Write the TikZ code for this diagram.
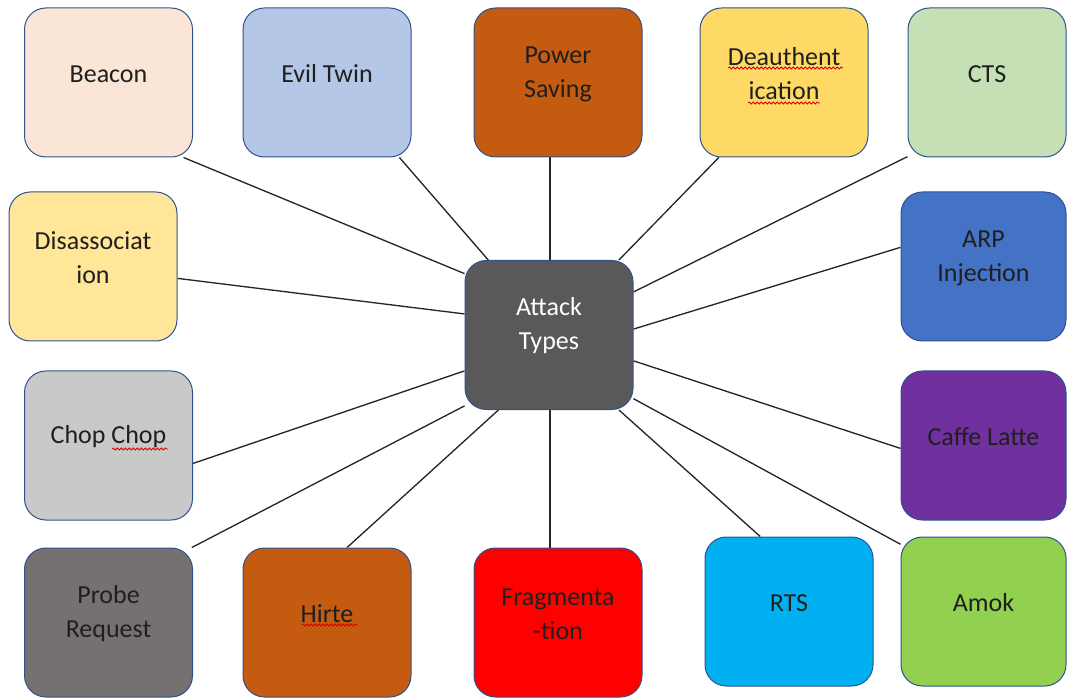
\documentclass[tikz,border=0pt]{standalone}
\usepackage{fontspec}
\setmainfont{Carlito}
\usetikzlibrary{backgrounds,decorations.pathmorphing}
\definecolor{boxline}{HTML}{2F528F}
\definecolor{cBeacon}{HTML}{FBE5D6}
\definecolor{cEvil}{HTML}{B4C7E7}
\definecolor{cPower}{HTML}{C55A11}
\definecolor{cDeauth}{HTML}{FFD966}
\definecolor{cCTS}{HTML}{C5E0B4}
\definecolor{cDisassoc}{HTML}{FFE699}
\definecolor{cARP}{HTML}{4472C4}
\definecolor{cChop}{HTML}{C9C9C9}
\definecolor{cCaffe}{HTML}{7030A0}
\definecolor{cProbe}{HTML}{767171}
\definecolor{cHirte}{HTML}{C55A11}
\definecolor{cFrag}{HTML}{FF0000}
\definecolor{cRTS}{HTML}{00B0F0}
\definecolor{cAmok}{HTML}{92D050}
\definecolor{cCenter}{HTML}{595959}
\begin{document}
\begin{tikzpicture}[x=0.75pt,y=-0.75pt,
  box/.style={draw=boxline, line width=0.75pt, rounded corners=16pt,
    minimum width=126pt, minimum height=111.75pt, inner sep=0pt},
  lbl/.style={align=center, inner sep=0pt,
    font=\fontsize{19.5}{25.5}\selectfont, text=black!88},
  link/.style={draw=black!85, line width=1pt},
  squig/.style={draw=red!85!black, line width=0.6pt, decorate,
    decoration={snake, amplitude=0.8pt, segment length=3pt}}]
\useasboundingbox (0,0) rectangle (1067,698);

% boxes
\node[box, fill=cCenter]   (c)        at (549,335)    {};
\node[box, fill=cBeacon]   (beacon)   at (108.5,82.5) {};
\node[box, fill=cEvil]     (evil)     at (327,82.5)   {};
\node[box, fill=cPower]    (power)    at (558,82.5)   {};
\node[box, fill=cDeauth]   (deauth)   at (784,82.5)   {};
\node[box, fill=cCTS, minimum width=118.5pt] (cts) at (987,82.5) {};
\node[box, fill=cDisassoc] (disassoc) at (93,266.5)   {};
\node[box, fill=cARP, minimum width=123.75pt]   (arp)   at (983.5,266.5) {};
\node[box, fill=cChop]     (chop)     at (108.5,445.5) {};
\node[box, fill=cCaffe, minimum width=123.75pt] (caffe) at (983.5,445.5) {};
\node[box, fill=cProbe]    (probe)    at (108.5,622.5) {};
\node[box, fill=cHirte]    (hirte)    at (327,622.5)  {};
\node[box, fill=cFrag]     (frag)     at (558,622.5)  {};
\node[box, fill=cRTS]      (rts)      at (789,611.5)  {};
\node[box, fill=cAmok, minimum width=123.75pt]  (amok)  at (983.5,611.5) {};

% box texts, set a little above the middle
\node[lbl, text=white] (c-t)  at ([yshift=7pt]c.center)        {Attack\\Types};
\node[lbl] (beacon-t)   at ([yshift=6.4pt]beacon.center)   {Beacon};
\node[lbl] (evil-t)     at ([yshift=6.4pt]evil.center)     {Evil Twin};
\node[lbl] (power-t)    at ([yshift=6.4pt]power.center)    {Power\\Saving};
\node[lbl] (deauth-t)   at ([yshift=6.4pt]deauth.center)   {Deauthent\\ication};
\node[lbl] (cts-t)      at ([yshift=6.4pt]cts.center)      {CTS};
\node[lbl] (disassoc-t) at ([yshift=6.4pt]disassoc.center) {Disassociat\\ion};
\node[lbl] (arp-t)      at ([yshift=6.4pt]arp.center)      {ARP\\Injection};
\node[lbl] (chop-t)     at ([yshift=6.4pt]chop.center)     {Chop Chop};
\node[lbl] (caffe-t)    at ([yshift=6.4pt]caffe.center)    {Caffe Latte};
\node[lbl] (probe-t)    at ([yshift=6.4pt]probe.center)    {Probe\\Request};
\node[lbl] (hirte-t)    at ([yshift=6.4pt]hirte.center)    {Hirte};
\node[lbl] (frag-t)     at ([yshift=6.4pt]frag.center)     {Fragmenta\\-tion};
\node[lbl] (rts-t)      at ([yshift=6.4pt]rts.center)      {RTS};
\node[lbl] (amok-t)     at ([yshift=6.4pt]amok.center)     {Amok};

% spoke connectors behind the boxes
\begin{scope}[on background layer]
  \draw[link] (c.144) -- (beacon.-45);
  \draw[link] (c.129) -- (evil.-46);
  \draw[link] ([xshift=0.75pt]c.north) -- ([xshift=0.75pt]c.north |- power.south);
  \draw[link] (c.47)  -- (deauth.229);
  \draw[link] (c.27)  -- (cts.223);
  \draw[link] (c.4)   -- (arp.167);
  \draw[link] (c.-17) -- (caffe.182);
  \draw[link] (c.-37) -- (amok.141);
  \draw[link] (c.-47) -- (rts.111);
  \draw[link] ([xshift=0.75pt]c.south) -- ([xshift=0.75pt]c.south |- frag.north);
  \draw[link] (c.236) -- (hirte.75);
  \draw[link] (c.220) -- (probe.42);
  \draw[link] (c.203) -- (chop.-12);
  \draw[link] (c.166) -- (disassoc.-8);
\end{scope}

% spelling underlines
\draw[squig] (728,68) -- (843,68);
\draw[squig] (748,103) -- (820,103);
\draw[squig] (112,449) -- (168,449);
\draw[squig] (302,625) -- (358,625);
\end{tikzpicture}
\end{document}
